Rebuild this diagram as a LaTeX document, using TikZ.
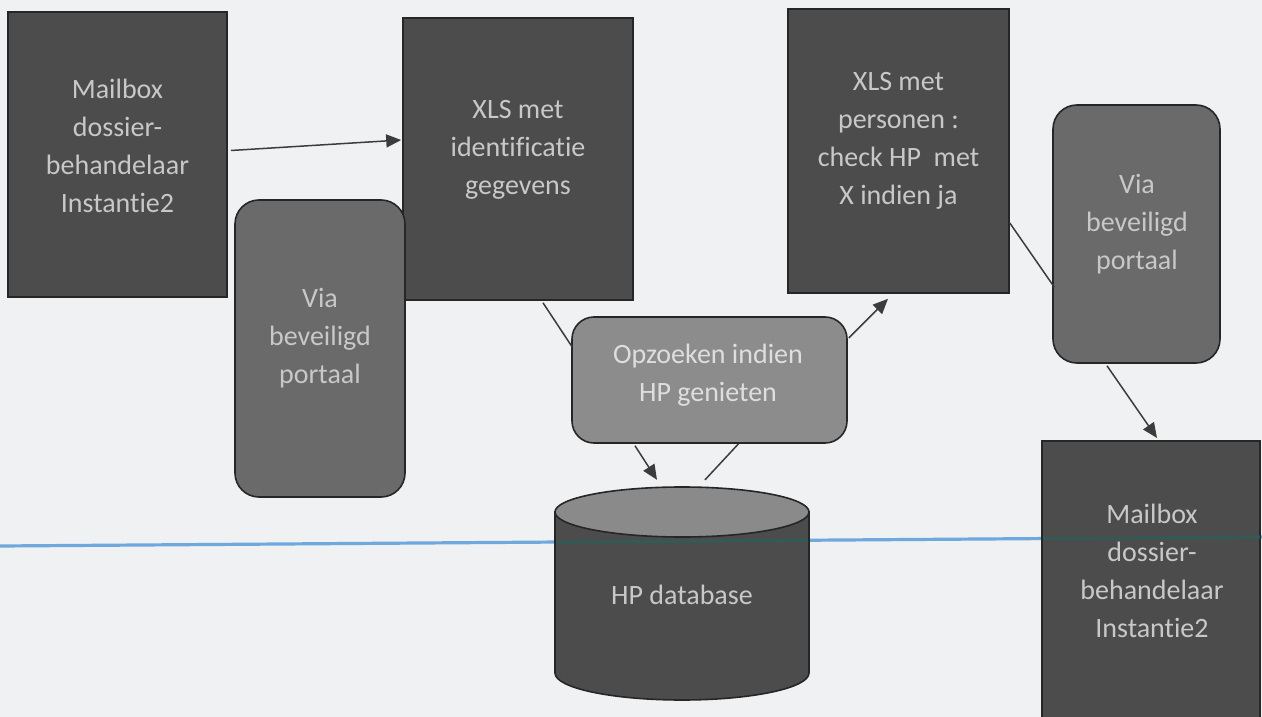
\documentclass[tikz,border=0pt]{standalone}
\usepackage{fontspec}
\setmainfont{Carlito}[Ligatures={NoCommon}]
\usetikzlibrary{calc,arrows.meta}
\definecolor{bg}{RGB}{240,241,243}
\definecolor{darkfill}{RGB}{76,76,76}
\definecolor{midfill}{RGB}{106,106,106}
\definecolor{lightfill}{RGB}{140,140,140}
\definecolor{edge}{RGB}{38,38,38}
\definecolor{txt}{RGB}{200,200,200}
\definecolor{txtlight}{RGB}{222,222,222}
\definecolor{conn}{RGB}{60,60,60}
\definecolor{blueline}{RGB}{111,168,220}
\definecolor{tealline}{RGB}{45,95,88}
\definecolor{cyltop}{RGB}{138,138,138}
\tikzset{
  darkbox/.style={draw=edge, line width=1.6pt, fill=darkfill, inner sep=0pt},
  portalbox/.style={draw=edge, line width=1.6pt, fill=midfill, rounded corners=24pt, inner sep=0pt},
  searchbox/.style={draw=edge, line width=1.6pt, fill=lightfill, rounded corners=22pt, inner sep=0pt},
  lbl/.style={text=txt, align=center, font=\fontsize{28}{38}\selectfont, inner sep=0pt},
  lbllight/.style={lbl, text=txtlight},
  link/.style={draw=conn, line width=1.5pt},
  arrowlink/.style={link, -{Triangle[length=15pt,width=13pt]}},
}
\begin{document}
\begin{tikzpicture}[x=1pt,y=-1pt]
\useasboundingbox (0,0) rectangle (1262,717);
\clip (0,0) rectangle (1262,717);
\fill[bg] (0,0) rectangle (1262,717);

% blue ruled line (behind)
\draw[blueline, line width=3.2pt] (0,546) -- (1262,537);

% boxes
\node[darkbox, minimum width=219pt, minimum height=285pt] (A) at (117.5,154.5) {};
\node[darkbox, minimum width=230pt, minimum height=282pt] (B) at (518,159) {};
\node[portalbox, minimum width=170pt, minimum height=297pt] (C) at (320,348.5) {};
\node[darkbox, minimum width=221pt, minimum height=284pt] (D) at (898.5,151) {};
\node[portalbox, minimum width=167pt, minimum height=258pt] (E) at (1136.5,234) {};
\node[searchbox, minimum width=275pt, minimum height=126pt] (F) at (709.5,380) {};
\node[darkbox, minimum width=218pt, minimum height=300pt, anchor=north] (H) at (1151,440) {};

% cylinder
\node[inner sep=0pt, minimum width=254pt, minimum height=213pt] (G) at (682,593.5) {};
\filldraw[draw=edge, line width=1.6pt, fill=darkfill]
  (555,512) -- (555,673) arc[start angle=180, end angle=0, x radius=127, y radius=27] -- (809,512) -- cycle;
\filldraw[draw=edge, line width=1.6pt, fill=cyltop] (682,512) ellipse [x radius=127, y radius=25];

% blue line over dark shapes
\draw[tealline, line width=3pt, opacity=0.8] (556,542.1) -- (808,540.3);
\draw[tealline, line width=3pt, opacity=0.8] (1043,538.6) -- (1260,537.1);

% labels
\node[lbl] (tA) at (117.5,146) {Mailbox\\dossier-\\behandelaar\\Instantie2};
\node[lbl] (tB) at (518,150) {XLS met\\identificatie\\gegevens};
\node[lbl] (tC) at (320,338.5) {Via\\beveiligd\\portaal};
\node[lbl] (tD) at (898.5,140.5) {XLS met\\personen :\\check HP~~met\\X indien ja};
\node[lbl] (tE) at (1137,224) {Via\\beveiligd\\portaal};
\node[lbllight] (tF) at (708,375) {Opzoeken indien\\HP genieten};
\node[lbl] (tG) at (682,595) {HP database};
\node[lbl] (tH) at (1152,570.5) {Mailbox\\dossier-\\behandelaar\\Instantie2};

% connectors
\draw[arrowlink] ($(A.east)+(3,-4)$) -- ($(B.west)+(-1,-19)$);
\draw[link] ($(B.south)+(25,2)$) -- ($(F.west)+(1,-33)$);
\draw[arrowlink] ($(F.east)+(1,-42)$) -- ($(D.south)+(-10.5,5)$);
\draw[arrowlink] ($(F.south)+(-74.5,2)$) -- ($(G.north)+(-25,-7)$);
\draw[link] ($(G.north)+(23,-7)$) -- ($(F.south)+(29,0)$);
\draw[link] ($(D.east)+(0,72)$) -- ($(E.west)+(2,53)$);
\draw[arrowlink] ($(E.south)+(-29.5,2)$) -- ($(H.north)+(6,-2)$);
\end{tikzpicture}
\end{document}
